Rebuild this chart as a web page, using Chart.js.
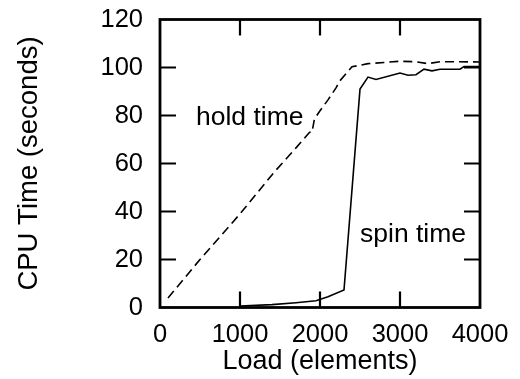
<!DOCTYPE html>
<html><head><meta charset="utf-8">
<script src="https://cdn.jsdelivr.net/npm/chart.js@4"></script>
<style>html,body{margin:0;padding:0;background:#fff;} #c{display:block;}</style>
</head><body>
<canvas id="c" width="520" height="379"></canvas>
<script>
const holdLoad = [100, 500, 1000, 1430, 1700, 1870, 1900, 1930, 2000, 2100, 2200, 2250, 2400, 2600, 2800, 3000, 3200, 3350, 3500, 3700, 4000];
const holdTime = [4, 20, 39, 56.5, 66.5, 73, 73, 78.5, 82, 86.5, 91.5, 94.5, 100.3, 101.6, 102.1, 102.6, 102.4, 101.6, 102.4, 102.4, 102.3];
const spinLoad = [1000, 1400, 1700, 1950, 2100, 2300, 2500, 2600, 2700, 3000, 3100, 3200, 3300, 3400, 3500, 3750, 3800, 4000];
const spinTime = [0.6, 1.2, 2, 2.8, 4.5, 7.3, 91, 96, 95, 97.7, 96.8, 97, 99.3, 98.6, 99.3, 99.3, 100.4, 100.4];
const xTicks = [0, 1000, 2000, 3000, 4000];
const yTicks = [0, 20, 40, 60, 80, 100, 120];
const labelNames = ['hold time', 'spin time'];
const labelX = [450, 2500];
const labelY = [76, 27.3];

const FONT = 'Liberation Sans, Arial, Helvetica, sans-serif';

const framePlugin = {
  id: 'frame',
  afterDraw(chart) {
    const ctx = chart.ctx;
    const a = chart.chartArea;
    const xs = chart.scales.x, ys = chart.scales.y;
    ctx.save();
    ctx.strokeStyle = '#000';
    ctx.lineWidth = 2.2;
    const tl = 16;
    ctx.beginPath();
    xTicks.forEach(v => {
      if (v === xs.min || v === xs.max) return;
      const px = xs.getPixelForValue(v);
      ctx.moveTo(px, a.bottom); ctx.lineTo(px, a.bottom - tl);
      ctx.moveTo(px, a.top); ctx.lineTo(px, a.top + tl);
    });
    yTicks.forEach(v => {
      if (v === ys.min || v === ys.max) return;
      const py = ys.getPixelForValue(v);
      ctx.moveTo(a.left, py); ctx.lineTo(a.left + tl, py);
      ctx.moveTo(a.right, py); ctx.lineTo(a.right - tl, py);
    });
    ctx.stroke();
    ctx.lineWidth = 2.8;
    ctx.strokeRect(a.left, a.top, a.right - a.left, a.bottom - a.top);
    ctx.fillStyle = '#000';
    ctx.font = '26.5px ' + FONT;
    ctx.textAlign = 'left';
    ctx.textBaseline = 'alphabetic';
    labelNames.forEach((t, i) => {
      ctx.fillText(t, xs.getPixelForValue(labelX[i]), ys.getPixelForValue(labelY[i]));
    });
    ctx.restore();
  }
};

new Chart(document.getElementById('c'), {
  type: 'line',
  data: {
    datasets: [
      { label: 'hold time', data: holdLoad.map((x, i) => ({x, y: holdTime[i]})),
        borderColor: '#000', borderWidth: 1.6, borderDash: [9, 5], pointRadius: 0, tension: 0, fill: false },
      { label: 'spin time', data: spinLoad.map((x, i) => ({x, y: spinTime[i]})),
        borderColor: '#000', borderWidth: 1.6, pointRadius: 0, tension: 0, fill: false }
    ]
  },
  options: {
    responsive: false,
    animation: false,
    devicePixelRatio: 1,
    layout: { padding: { top: 19.5, right: 40, left: 0, bottom: 0 } },
    plugins: { legend: { display: false }, tooltip: { enabled: false } },
    scales: {
      x: {
        type: 'linear', min: 0, max: 4000,
        afterBuildTicks: s => { s.ticks = xTicks.map(v => ({ value: v })); },
        afterFit: s => { s.height = 71.5; s.paddingLeft = 10; s.paddingRight = 30; },
        grid: { display: false, drawTicks: false }, border: { display: false },
        ticks: { color: '#000', font: { family: FONT, size: 25.5 }, padding: 12, maxRotation: 0, autoSkip: false,
                 callback: v => String(v) },
        title: { display: true, text: 'Load (elements)', color: '#000', font: { family: FONT, size: 27 }, padding: { top: 0, bottom: 1 } }
      },
      y: {
        min: 0, max: 120,
        afterBuildTicks: s => { s.ticks = yTicks.map(v => ({ value: v })); },
        afterFit: s => { s.width = 160; s.paddingTop = 10; s.paddingBottom = 10; },
        grid: { display: false, drawTicks: false }, border: { display: false },
        ticks: { color: '#000', font: { family: FONT, size: 25.5 }, padding: 17, callback: v => String(v) },
        title: { display: true, text: 'CPU Time (seconds)', color: '#000', font: { family: FONT, size: 27.5 }, padding: { top: 13, bottom: 0 } }
      }
    }
  },
  plugins: [framePlugin]
});
</script>
</body></html>
